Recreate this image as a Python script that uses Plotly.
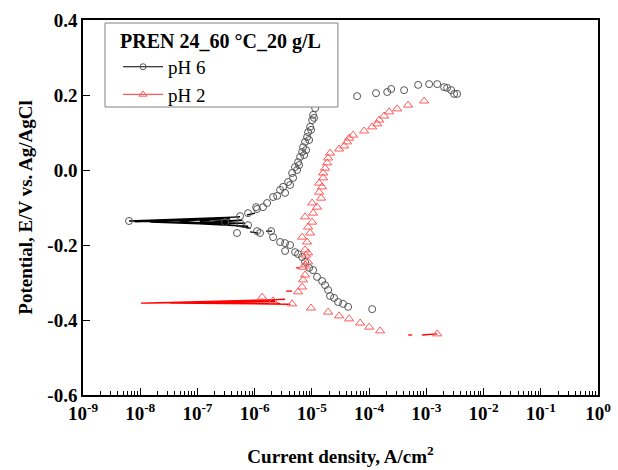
import plotly.graph_objects as go

# ---------------- data (current density A/cm2, potential V vs Ag/AgCl) -------------
# pH 6 : symbols
ph6_i = [6.37e-9,
         3.04e-7, 5.56e-7, 7.67e-7, 1.06e-6, 1.10e-6, 1.40e-6, 1.65e-6, 2.10e-6, 2.47e-6, 2.78e-6,
         3.14e-6, 3.40e-6, 3.84e-6, 4.16e-6, 4.51e-6, 4.69e-6, 5.08e-6, 5.51e-6, 5.74e-6,
         5.97e-6, 6.22e-6, 6.75e-6, 7.02e-6, 7.31e-6, 7.60e-6, 7.92e-6, 8.24e-6, 8.59e-6,
         8.93e-6, 9.31e-6, 9.68e-6, 1.01e-5, 1.05e-5, 1.09e-5, 1.14e-5, 1.23e-5, 1.34e-5,
         6.17e-5, 1.32e-4, 2.07e-4, 2.43e-4, 4.09e-4, 7.19e-4, 1.12e-3, 1.55e-3, 2.05e-3,
         2.31e-3, 2.72e-3, 3.06e-3, 3.45e-3,
         5.56e-7, 4.92e-7, 7.67e-7, 1.10e-6, 1.24e-6, 1.94e-6, 2.10e-6, 2.78e-6, 3.40e-6,
         3.40e-6, 4.16e-6, 5.08e-6, 5.74e-6, 6.75e-6, 7.60e-6, 8.93e-6, 1.05e-5, 1.23e-5,
         1.51e-5, 1.70e-5, 1.92e-5, 2.08e-5, 2.44e-5, 2.87e-5, 3.51e-5, 4.30e-5, 1.13e-4]
ph6_e = [-0.136,
         -0.139, -0.123, -0.115, -0.099, -0.104, -0.099, -0.088, -0.072, -0.069, -0.053,
         -0.045, -0.061, -0.032, -0.040, -0.008, -0.021, 0.008, 0.000, 0.021,
         0.013, 0.035, 0.048, 0.061, 0.040, 0.075, 0.053, 0.088, 0.101,
         0.080, 0.115, 0.107, 0.133, 0.147, 0.139, 0.165, 0.187, 0.208,
         0.197, 0.205, 0.208, 0.216, 0.213, 0.227, 0.229, 0.229, 0.221,
         0.219, 0.213, 0.203, 0.203,
         -0.141, -0.168, -0.147, -0.163, -0.168, -0.163, -0.179, -0.192, -0.195,
         -0.216, -0.200, -0.219, -0.224, -0.232, -0.245, -0.261, -0.267, -0.285,
         -0.296, -0.307, -0.320, -0.336, -0.341, -0.352, -0.357, -0.365, -0.371]

# pH 6 : line pieces near Ecorr
ph6_line_i = [[6.37e-9, 5.56e-7, 8.0e-9, 3.72e-7, 1.0e-8, 6.8e-7, 1.5e-8, 4.5e-7,
               2.7e-8, 7.7e-7, 5.0e-8, 2.7e-7, 1.1e-7, 6.0e-7, 2.0e-7, 8.5e-7],
              [7.36e-7, 1.02e-6], [8.32e-7, 1.15e-6], [1.58e-6, 2.02e-6]]
ph6_line_e = [[-0.136, -0.125, -0.138, -0.130, -0.137, -0.142, -0.139, -0.147,
               -0.139, -0.150, -0.138, -0.127, -0.137, -0.134, -0.140, -0.155],
              [-0.120, -0.115], [-0.165, -0.168], [-0.163, -0.163]]

# pH 2 : symbols
ph2_i = [1.35e-6, 2.10e-6, 4.51e-6, 9.68e-6, 1.92e-5, 2.99e-5, 4.47e-5, 6.97e-5, 1.0e-4,
         1.56e-4, 1.55e-3,
         5.74e-6, 6.75e-6, 7.02e-6, 7.60e-6, 7.02e-6, 8.59e-6, 7.92e-6, 7.60e-6, 7.60e-6,
         8.59e-6, 8.24e-6, 6.75e-6, 9.31e-6, 8.59e-6, 1.01e-5, 7.60e-6, 1.05e-5, 1.01e-5,
         1.23e-5, 1.45e-5, 1.34e-5, 1.51e-5, 1.34e-5, 1.57e-5, 1.57e-5, 1.70e-5, 1.85e-5,
         1.92e-5, 2.08e-5, 2.99e-5, 3.66e-5, 4.12e-5, 4.47e-5, 5.25e-5, 8.18e-5, 1.13e-4,
         1.38e-4, 1.50e-4, 1.83e-4, 2.24e-4, 3.09e-4, 4.81e-4, 9.16e-4]
ph2_e = [-0.339, -0.349, -0.357, -0.368, -0.379, -0.389, -0.397, -0.408, -0.419,
         -0.429, -0.437,
         -0.325, -0.312, -0.293, -0.280, -0.259, -0.245, -0.227, -0.213, -0.253,
         -0.221, -0.192, -0.179, -0.168, -0.152, -0.139, -0.125, -0.115, -0.088,
         -0.099, -0.075, -0.059, -0.045, -0.035, -0.021, -0.008, 0.005, 0.019,
         0.032, 0.045, 0.056, 0.064, 0.075, 0.085, 0.093, 0.104, 0.115,
         0.123, 0.133, 0.144, 0.155, 0.163, 0.173, 0.184]

# pH 2 : line pieces
ph2_line_i = [[1.03e-8, 3.4e-6, 1.5e-8, 2.3e-6, 3.3e-8, 4.2e-6, 1.1e-7, 1.6e-6,
               3.7e-7, 2.8e-6],
              [3.54e-6, 4.51e-6], [5.30e-6, 6.22e-6], [4.81e-4, 5.65e-4], [8.45e-4, 1.55e-3]]
ph2_line_e = [[-0.355, -0.345, -0.355, -0.350, -0.355, -0.358, -0.354, -0.347,
               -0.354, -0.356],
              [-0.323, -0.323], [-0.261, -0.261], [-0.440, -0.440], [-0.440, -0.437]]

x_tickvals = [1e-9, 1e-8, 1e-7, 1e-6, 1e-5, 1e-4, 1e-3, 1e-2, 1e-1, 1e0]
x_ticktext = ["10<sup>-9</sup>", "10<sup>-8</sup>", "10<sup>-7</sup>", "10<sup>-6</sup>",
              "10<sup>-5</sup>", "10<sup>-4</sup>", "10<sup>-3</sup>", "10<sup>-2</sup>",
              "10<sup>-1</sup>", "10<sup>0</sup>"]
y_tickvals = [-0.6, -0.4, -0.2, 0.0, 0.2, 0.4]
y_ticktext = ["-0.6", "-0.4", "-0.2", "0.0", "0.2", "0.4"]


def join(segs):
    out = []
    for k, s in enumerate(segs):
        if k:
            out.append(None)
        out.extend(s)
    return out


FONT = "Liberation Serif"
BLACK_SYM = "#555555"
RED_SYM = "#ff5a5a"

fig = go.Figure()
fig.add_trace(go.Scatter(x=join(ph6_line_i), y=join(ph6_line_e), mode="lines",
                         line=dict(color="black", width=1.3), showlegend=False,
                         hoverinfo="skip"))
fig.add_trace(go.Scatter(x=join(ph2_line_i), y=join(ph2_line_e), mode="lines",
                         line=dict(color="#ff0000", width=1.3), showlegend=False,
                         hoverinfo="skip"))
fig.add_trace(go.Scatter(x=ph6_i, y=ph6_e, mode="markers", showlegend=False,
                         marker=dict(symbol="circle-open", size=7, color=BLACK_SYM,
                                     line=dict(width=1))))
fig.add_trace(go.Scatter(x=ph2_i, y=ph2_e, mode="markers", showlegend=False,
                         marker=dict(symbol="triangle-up-open", size=8, color=RED_SYM,
                                     line=dict(width=1))))
# legend entries
fig.add_trace(go.Scatter(x=[None], y=[None], mode="lines+markers", name="pH 6",
                         line=dict(color="black", width=1.2),
                         marker=dict(symbol="circle-open", size=6, color=BLACK_SYM,
                                     line=dict(width=1))))
fig.add_trace(go.Scatter(x=[None], y=[None], mode="lines+markers", name="pH 2",
                         line=dict(color="#ff5a5a", width=1.2),
                         marker=dict(symbol="triangle-up-open", size=7, color=RED_SYM,
                                     line=dict(width=1))))

# legend frame (white box that hides the curve behind the legend)
fig.add_shape(type="rect", xref="paper", yref="paper",
              x0=0.0427, x1=0.495, y0=0.768, y1=0.992,
              line=dict(color="#808080", width=1), fillcolor="white", layer="above")

fig.update_layout(
    width=618, height=470,
    margin=dict(l=83, r=20, t=20, b=75, autoexpand=False),
    paper_bgcolor="white", plot_bgcolor="white",
    font=dict(family=FONT, size=17, color="black"),
    legend=dict(x=0.068, y=0.995, xanchor="left", yanchor="top",
                bgcolor="rgba(0,0,0,0)", borderwidth=0,
                font=dict(family=FONT, size=19),
                title=dict(text="<b>PREN 24_60 °C_20 g/L</b>",
                           font=dict(family=FONT, size=20)),
                tracegroupgap=0, itemwidth=40),
    showlegend=True,
)
fig.update_xaxes(type="log", range=[-9, 0], showgrid=False, zeroline=False,
                 automargin=False,
                 showline=True, linecolor="black", linewidth=1.5, mirror=True,
                 ticks="inside", ticklen=7, tickwidth=1.2, tickcolor="black",
                 tickvals=x_tickvals, ticktext=x_ticktext,
                 tickfont=dict(family=FONT, size=19, color="black", weight="bold"),
                 minor=dict(ticks="inside", ticklen=4, tickwidth=1, tickcolor="black",
                            dtick="D1", showgrid=False),
                 title=dict(text="<b>Current density, A/cm<sup>2</sup></b>",
                            font=dict(family=FONT, size=19), standoff=27))
fig.update_yaxes(range=[-0.6, 0.4], showgrid=False, zeroline=False,
                 automargin=False,
                 showline=True, linecolor="black", linewidth=1.5, mirror=True,
                 ticks="inside", ticklen=7, tickwidth=1.2, tickcolor="black",
                 tickvals=y_tickvals, ticktext=y_ticktext,
                 tickfont=dict(family=FONT, size=19, color="black", weight="bold"),
                 title=dict(text="<b>Potential, E/V vs. Ag/AgCl</b>",
                            font=dict(family=FONT, size=19), standoff=10))

fig.write_html("out.html")
